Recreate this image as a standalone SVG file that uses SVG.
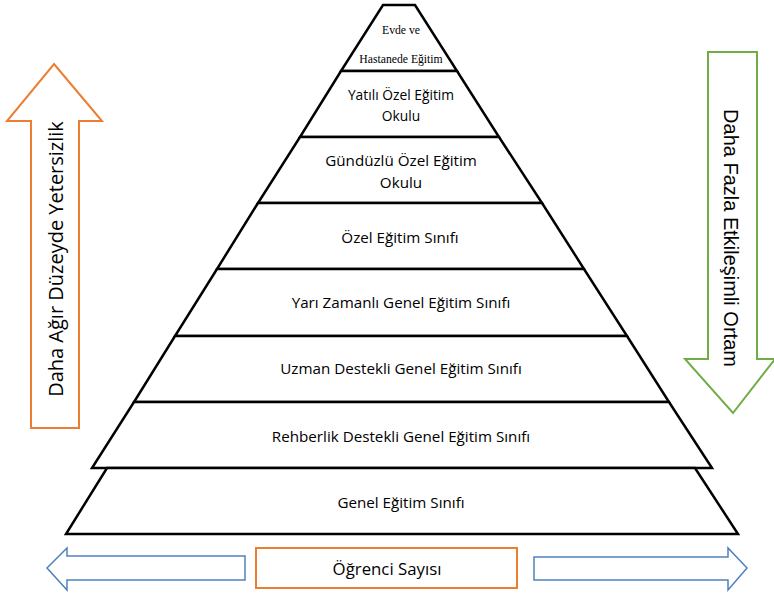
<svg xmlns="http://www.w3.org/2000/svg" width="774" height="595" viewBox="0 0 774 595">
<style>
.layer{fill:#fff;stroke:#000;stroke-width:2.5;stroke-linejoin:miter}
.lbl{font-family:"Open Sans","Liberation Sans",sans-serif;font-size:15.2px;fill:#000;text-anchor:middle}
.top{font-family:"Liberation Serif",serif;font-size:11.7px;fill:#000;text-anchor:middle}
.side{font-family:"Open Sans","Liberation Sans",sans-serif;font-size:20px;fill:#000;text-anchor:middle}
.side2{font-family:"Liberation Sans",sans-serif;font-size:20px;fill:#000;text-anchor:middle}
.cnt{font-family:"Open Sans","Liberation Sans",sans-serif;font-size:16.8px;fill:#000;text-anchor:middle}
</style>
<rect width="774" height="595" fill="#fff"/>
<g id="l8"><polygon class="layer" points="383,5 415,5 457,71 341,71"/><text class="top" x="401" y="34">Evde ve</text><text class="top" x="401" y="63">Hastanede Eğitim</text></g>
<g id="l7"><polygon class="layer" points="341,71 457,71 499,137 300,137"/><text class="lbl" x="401" y="100" style="font-size:13.8px">Yatılı Özel Eğitim</text><text class="lbl" x="401" y="121" style="font-size:13.8px">Okulu</text></g>
<g id="l6"><polygon class="layer" points="300,137 499,137 542,203 258,203"/><text class="lbl" x="401" y="166">Gündüzlü Özel Eğitim</text><text class="lbl" x="401" y="188">Okulu</text></g>
<g id="l5"><polygon class="layer" points="258,203 542,203 584,269 217,269"/><text class="lbl" x="400" y="243">Özel Eğitim Sınıfı</text></g>
<g id="l4"><polygon class="layer" points="217,269 584,269 627,336 175,336"/><text class="lbl" x="401" y="308">Yarı Zamanlı Genel Eğitim Sınıfı</text></g>
<g id="l3"><polygon class="layer" points="175,336 627,336 669,402 134,402"/><text class="lbl" x="401" y="374">Uzman Destekli Genel Eğitim Sınıfı</text></g>
<g id="l2"><polygon class="layer" points="134,402 669,402 712,468 92,468"/><text class="lbl" x="401" y="442">Rehberlik Destekli Genel Eğitim Sınıfı</text></g>
<g id="l1"><polygon class="layer" points="107,468 695,468 738,534 66,534"/><text class="lbl" x="401" y="508">Genel Eğitim Sınıfı</text></g>
<g id="leftArrow"><polygon points="54,64 102,121 79,121 79,428 31,428 31,121 7,121" fill="#fff" stroke="#ED7D31" stroke-width="2"/><text class="side" transform="translate(63,259) rotate(-90)">Daha Ağır Düzeyde Yetersizlik</text></g>
<g id="rightArrow"><polygon points="708,52 757,52 757,359 775,359 733,413 685,359 708,359" fill="#fff" stroke="#70AD47" stroke-width="2"/><text class="side2" transform="translate(724,238) rotate(90)">Daha Fazla Etkileşimli Ortam</text></g>
<g id="count"><rect x="256" y="548" width="261" height="40" fill="#fff" stroke="#ED7D31" stroke-width="2"/><text class="cnt" x="387" y="575">Öğrenci Sayısı</text></g>
<g id="connectors">
<polygon points="47,568 67,548 67,556 245,556 245,580 67,580 67,590" fill="#fff" stroke="#4F81BD" stroke-width="1.5"/>
<polygon points="747,568 728,548 728,557 534,557 534,580 728,580 728,590" fill="#fff" stroke="#4F81BD" stroke-width="1.5"/>
</g>
</svg>
